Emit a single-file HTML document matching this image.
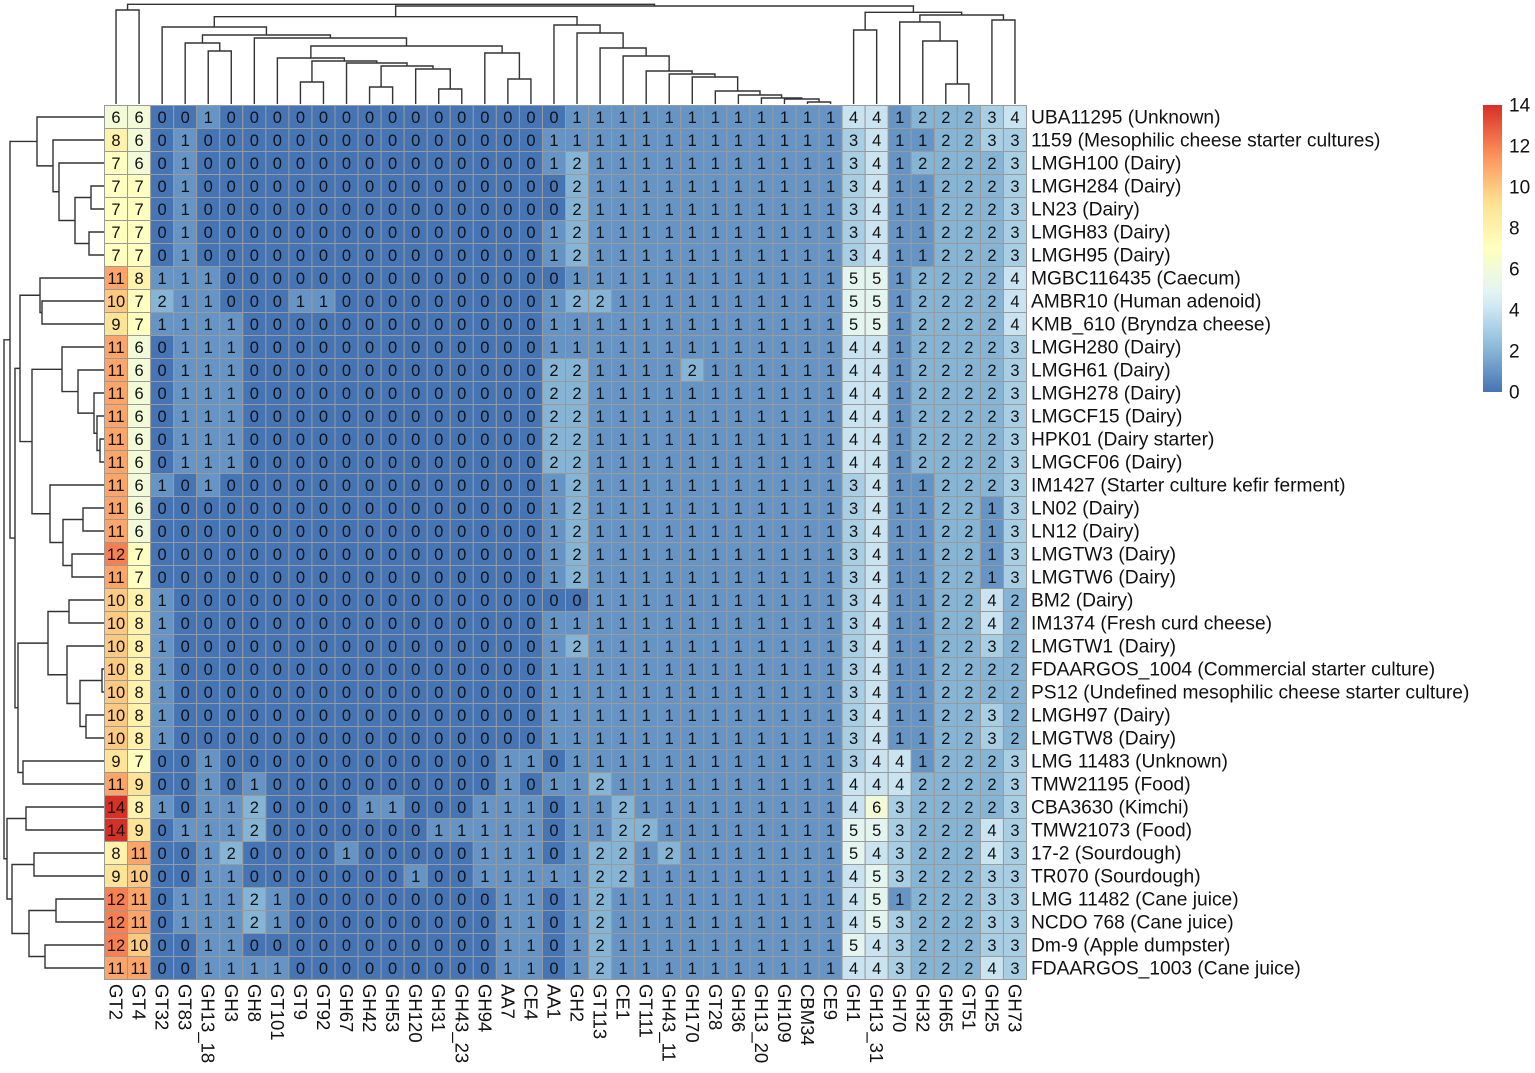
<!DOCTYPE html>
<html><head><meta charset="utf-8"><style>
html,body{margin:0;padding:0;background:#fff;}
svg{display:block;font-family:"Liberation Sans",Arial,sans-serif;}
</style></head><body>
<svg id="chart" width="1535" height="1073" viewBox="0 0 1535 1073" xmlns="http://www.w3.org/2000/svg">
<g id="dendro-col"></g>
<g id="dendro-row"></g>
<g id="cells"></g>
<g id="rowlabels"></g>
<g id="collabels"></g>
<g id="legend"></g>
</svg>
<script>
const colNames=["GT2","GT4","GT32","GT83","GH13_18","GH3","GH8","GT101","GT9","GT92","GH67","GH42","GH53","GH120","GH31","GH43_23","GH94","AA7","CE4","AA1","GH2","GT113","CE1","GT111","GH43_11","GH170","GT28","GH36","GH13_20","GH109","CBM34","CE9","GH1","GH13_31","GH70","GH32","GH65","GT51","GH25","GH73"];
const rowNames=["UBA11295 (Unknown)","1159 (Mesophilic cheese starter cultures)","LMGH100 (Dairy)","LMGH284 (Dairy)","LN23 (Dairy)","LMGH83 (Dairy)","LMGH95 (Dairy)","MGBC116435 (Caecum)","AMBR10 (Human adenoid)","KMB_610 (Bryndza cheese)","LMGH280 (Dairy)","LMGH61 (Dairy)","LMGH278 (Dairy)","LMGCF15 (Dairy)","HPK01 (Dairy starter)","LMGCF06 (Dairy)","IM1427 (Starter culture kefir ferment)","LN02 (Dairy)","LN12 (Dairy)","LMGTW3 (Dairy)","LMGTW6 (Dairy)","BM2 (Dairy)","IM1374 (Fresh curd cheese)","LMGTW1 (Dairy)","FDAARGOS_1004 (Commercial starter culture)","PS12 (Undefined mesophilic cheese starter culture)","LMGH97 (Dairy)","LMGTW8 (Dairy)","LMG 11483 (Unknown)","TMW21195 (Food)","CBA3630 (Kimchi)","TMW21073 (Food)","17-2 (Sourdough)","TR070 (Sourdough)","LMG 11482 (Cane juice)","NCDO 768 (Cane juice)","Dm-9 (Apple dumpster)","FDAARGOS_1003 (Cane juice)"];
const valuesLeft=[
[6,6,0,0,1,0,0,0,0,0,0,0,0,0,0,0,0,0,0,0],
[8,6,0,1,0,0,0,0,0,0,0,0,0,0,0,0,0,0,0,1],
[7,6,0,1,0,0,0,0,0,0,0,0,0,0,0,0,0,0,0,1],
[7,7,0,1,0,0,0,0,0,0,0,0,0,0,0,0,0,0,0,0],
[7,7,0,1,0,0,0,0,0,0,0,0,0,0,0,0,0,0,0,0],
[7,7,0,1,0,0,0,0,0,0,0,0,0,0,0,0,0,0,0,1],
[7,7,0,1,0,0,0,0,0,0,0,0,0,0,0,0,0,0,0,1],
[11,8,1,1,1,0,0,0,0,0,0,0,0,0,0,0,0,0,0,0],
[10,7,2,1,1,0,0,0,1,1,0,0,0,0,0,0,0,0,0,1],
[9,7,1,1,1,1,0,0,0,0,0,0,0,0,0,0,0,0,0,1],
[11,6,0,1,1,1,0,0,0,0,0,0,0,0,0,0,0,0,0,1],
[11,6,0,1,1,1,0,0,0,0,0,0,0,0,0,0,0,0,0,2],
[11,6,0,1,1,1,0,0,0,0,0,0,0,0,0,0,0,0,0,2],
[11,6,0,1,1,1,0,0,0,0,0,0,0,0,0,0,0,0,0,2],
[11,6,0,1,1,1,0,0,0,0,0,0,0,0,0,0,0,0,0,2],
[11,6,0,1,1,1,0,0,0,0,0,0,0,0,0,0,0,0,0,2],
[11,6,1,0,1,0,0,0,0,0,0,0,0,0,0,0,0,0,0,1],
[11,6,0,0,0,0,0,0,0,0,0,0,0,0,0,0,0,0,0,1],
[11,6,0,0,0,0,0,0,0,0,0,0,0,0,0,0,0,0,0,1],
[12,7,0,0,0,0,0,0,0,0,0,0,0,0,0,0,0,0,0,1],
[11,7,0,0,0,0,0,0,0,0,0,0,0,0,0,0,0,0,0,1],
[10,8,1,0,0,0,0,0,0,0,0,0,0,0,0,0,0,0,0,0],
[10,8,1,0,0,0,0,0,0,0,0,0,0,0,0,0,0,0,0,1],
[10,8,1,0,0,0,0,0,0,0,0,0,0,0,0,0,0,0,0,1],
[10,8,1,0,0,0,0,0,0,0,0,0,0,0,0,0,0,0,0,1],
[10,8,1,0,0,0,0,0,0,0,0,0,0,0,0,0,0,0,0,1],
[10,8,1,0,0,0,0,0,0,0,0,0,0,0,0,0,0,0,0,1],
[10,8,1,0,0,0,0,0,0,0,0,0,0,0,0,0,0,0,0,1],
[9,7,0,0,1,0,0,0,0,0,0,0,0,0,0,0,0,1,1,0],
[11,9,0,0,1,0,1,0,0,0,0,0,0,0,0,0,0,1,0,1],
[14,8,1,0,1,1,2,0,0,0,0,1,1,0,0,0,1,1,1,0],
[14,9,0,1,1,1,2,0,0,0,0,0,0,0,1,1,1,1,1,0],
[8,11,0,0,1,2,0,0,0,0,1,0,0,0,0,0,1,1,1,0],
[9,10,0,0,1,1,0,0,0,0,0,0,0,1,0,0,1,1,1,1],
[12,11,0,1,1,1,2,1,0,0,0,0,0,0,0,0,0,1,1,0],
[12,11,0,1,1,1,2,1,0,0,0,0,0,0,0,0,0,1,1,0],
[12,10,0,0,1,1,0,0,0,0,0,0,0,0,0,0,0,1,1,0],
[11,11,0,0,1,1,1,1,0,0,0,0,0,0,0,0,0,1,1,0]];
const valuesRight=[
[1,1,1,1,1,1,1,1,1,1,1,1,4,4,1,2,2,2,3,4],
[1,1,1,1,1,1,1,1,1,1,1,1,3,4,1,1,2,2,3,3],
[2,1,1,1,1,1,1,1,1,1,1,1,3,4,1,2,2,2,2,3],
[2,1,1,1,1,1,1,1,1,1,1,1,3,4,1,1,2,2,2,3],
[2,1,1,1,1,1,1,1,1,1,1,1,3,4,1,1,2,2,2,3],
[2,1,1,1,1,1,1,1,1,1,1,1,3,4,1,1,2,2,2,3],
[2,1,1,1,1,1,1,1,1,1,1,1,3,4,1,1,2,2,2,3],
[1,1,1,1,1,1,1,1,1,1,1,1,5,5,1,2,2,2,2,4],
[2,2,1,1,1,1,1,1,1,1,1,1,5,5,1,2,2,2,2,4],
[1,1,1,1,1,1,1,1,1,1,1,1,5,5,1,2,2,2,2,4],
[1,1,1,1,1,1,1,1,1,1,1,1,4,4,1,2,2,2,2,3],
[2,1,1,1,1,2,1,1,1,1,1,1,4,4,1,2,2,2,2,3],
[2,1,1,1,1,1,1,1,1,1,1,1,4,4,1,2,2,2,2,3],
[2,1,1,1,1,1,1,1,1,1,1,1,4,4,1,2,2,2,2,3],
[2,1,1,1,1,1,1,1,1,1,1,1,4,4,1,2,2,2,2,3],
[2,1,1,1,1,1,1,1,1,1,1,1,4,4,1,2,2,2,2,3],
[2,1,1,1,1,1,1,1,1,1,1,1,3,4,1,1,2,2,2,3],
[2,1,1,1,1,1,1,1,1,1,1,1,3,4,1,1,2,2,1,3],
[2,1,1,1,1,1,1,1,1,1,1,1,3,4,1,1,2,2,1,3],
[2,1,1,1,1,1,1,1,1,1,1,1,3,4,1,1,2,2,1,3],
[2,1,1,1,1,1,1,1,1,1,1,1,3,4,1,1,2,2,1,3],
[0,1,1,1,1,1,1,1,1,1,1,1,3,4,1,1,2,2,4,2],
[1,1,1,1,1,1,1,1,1,1,1,1,3,4,1,1,2,2,4,2],
[2,1,1,1,1,1,1,1,1,1,1,1,3,4,1,1,2,2,3,2],
[1,1,1,1,1,1,1,1,1,1,1,1,3,4,1,1,2,2,2,2],
[1,1,1,1,1,1,1,1,1,1,1,1,3,4,1,1,2,2,2,2],
[1,1,1,1,1,1,1,1,1,1,1,1,3,4,1,1,2,2,3,2],
[1,1,1,1,1,1,1,1,1,1,1,1,3,4,1,1,2,2,3,2],
[1,1,1,1,1,1,1,1,1,1,1,1,3,4,4,1,2,2,2,3],
[1,2,1,1,1,1,1,1,1,1,1,1,4,4,4,2,2,2,2,3],
[1,1,2,1,1,1,1,1,1,1,1,1,4,6,3,2,2,2,2,3],
[1,1,2,2,1,1,1,1,1,1,1,1,5,5,3,2,2,2,4,3],
[1,2,2,1,2,1,1,1,1,1,1,1,5,4,3,2,2,2,4,3],
[1,2,2,1,1,1,1,1,1,1,1,1,4,5,3,2,2,2,3,3],
[1,2,1,1,1,1,1,1,1,1,1,1,4,5,1,2,2,2,3,3],
[1,2,1,1,1,1,1,1,1,1,1,1,4,5,3,2,2,2,3,3],
[1,2,1,1,1,1,1,1,1,1,1,1,5,4,3,2,2,2,3,3],
[1,2,1,1,1,1,1,1,1,1,1,1,4,4,3,2,2,2,4,3]];
const legendTicks=[0,2,4,6,8,10,12,14];
// dendrogram trees: [left, right, barPosition]
const colTree=[[0,1,10],[[[2,[[3,[4,5,51],43],[6,[[7,[[8,9,82],[10,[[11,12,87],[13,[14,15,89],69],66],63],61],58],[16,[17,18,79],53],46],38],35],27],[19,[20,[21,[22,[23,[24,[25,[26,[27,[28,[29,[30,31,102],99],98],95],91],77],74],71],56],48],33],25],16.7],[[32,33,30],[[34,[35,[36,37,84],41],22],[38,39,20],15],12.3],6],4.3];
const rowTree=[[[0,[1,[2,[[3,4,91],[5,6,89],75],59],53],37],[[[7,[8,9,42],40],[[10,[11,[12,[13,[14,15,100],97],94],78],62],[16,[[17,18,83],[19,20,72],63],50],32],20],[[[21,22,69],[23,[[24,25,102],[26,27,86],80],67],48],[28,29,23],18],15],10],[[30,31,26],[[32,33,34],[[34,35,56],[36,37,45],29],12],7],4];

const NS="http://www.w3.org/2000/svg";
const X0=104.5,Y0=105.5,CW=23.05,CH=23.0,VMIN=0,VMAX=14;
const xPos=j=>X0+j*CW, yPos=i=>Y0+i*CH;
const stops=["#4575B4","#91BFDB","#E0F3F8","#FFFFBF","#FEE090","#FC8D59","#D73027"];
function hx(c){return [parseInt(c.slice(1,3),16),parseInt(c.slice(3,5),16),parseInt(c.slice(5,7),16)];}
function color(v){let t=(v-VMIN)/(VMAX-VMIN)*(stops.length-1);let i=Math.min(Math.floor(t),stops.length-2);let f=t-i;let a=hx(stops[i]),b=hx(stops[i+1]);return "rgb("+a.map((x,k)=>Math.round(x+(b[k]-x)*f)).join(",")+")";}
function mk(tag,attrs,parent){const e=document.createElementNS(NS,tag);for(const k in attrs)e.setAttribute(k,attrs[k]);parent.appendChild(e);return e;}

const cells=document.getElementById("cells");
for(let i=0;i<rowNames.length;i++){
  const row=valuesLeft[i].concat(valuesRight[i]);
  for(let j=0;j<colNames.length;j++){
    const v=row[j];
    const r=mk("rect",{x:xPos(j),y:yPos(i),width:CW,height:CH,fill:color(v),stroke:"#9a9a9a","stroke-width":1},cells);
    
    
    const t=mk("text",{x:xPos(j)+CW/2,y:yPos(i)+CH/2+6,"text-anchor":"middle","font-size":16.5,fill:"#111"},cells);
    
    
    t.textContent=v;
  }
}
const rl=document.getElementById("rowlabels");
rowNames.forEach((n,i)=>{
  const t=mk("text",{x:1031,y:yPos(i)+CH/2+6.5,"font-size":19.2,fill:"#111"},rl);
  
  
  t.textContent=n;
});
const cl=document.getElementById("collabels");
colNames.forEach((n,j)=>{
  const cx=xPos(j)+CW/2;
  const t=mk("text",{x:0,y:0,transform:"translate("+(cx-6.5)+",984) rotate(90)","font-size":18.5,fill:"#111"},cl);
  
  
  t.textContent=n;
});
// dendrograms
function drawTree(tree,g,leafPos,leafEnd,horiz){
  function rec(node){
    if(typeof node==="number") return {p:leafPos(node),h:leafEnd};
    const a=rec(node[0]),b=rec(node[1]),h=node[2];
    let d;
    if(horiz){ d="M"+a.p+","+a.h+"V"+h+"H"+b.p+"V"+b.h; }
    else { d="M"+a.h+","+a.p+"H"+h+"V"+b.p+"H"+b.h; }
    const path=mk("path",{d:d,fill:"none",stroke:"#333","stroke-width":1.4},g);
    
    
    return {p:(a.p+b.p)/2,h:h};
  }
  rec(tree);
}
drawTree(colTree,document.getElementById("dendro-col"),j=>xPos(j)+CW/2,104,true);
drawTree(rowTree,document.getElementById("dendro-row"),i=>yPos(i)+CH/2,104,false);
// legend
const lg=document.getElementById("legend");
const LX=1483,LW=19,LT=105,LB=392;
const defs=mk("defs",{},lg);
const grad=mk("linearGradient",{id:"lgGrad",x1:0,y1:1,x2:0,y2:0},defs);
for(let k=0;k<=20;k++){mk("stop",{offset:k/20,"stop-color":color(VMIN+(VMAX-VMIN)*k/20)},grad);}
const bar=mk("rect",{x:LX,y:LT,width:LW,height:LB-LT,fill:"url(#lgGrad)"},lg);


legendTicks.forEach(v=>{
  const y=LB-(v-VMIN)/(VMAX-VMIN)*(LB-LT);
  const t=mk("text",{x:1509,y:y+6.5,"font-size":19,fill:"#111"},lg);
  
  
  t.textContent=v;
});
</script>
</body></html>
